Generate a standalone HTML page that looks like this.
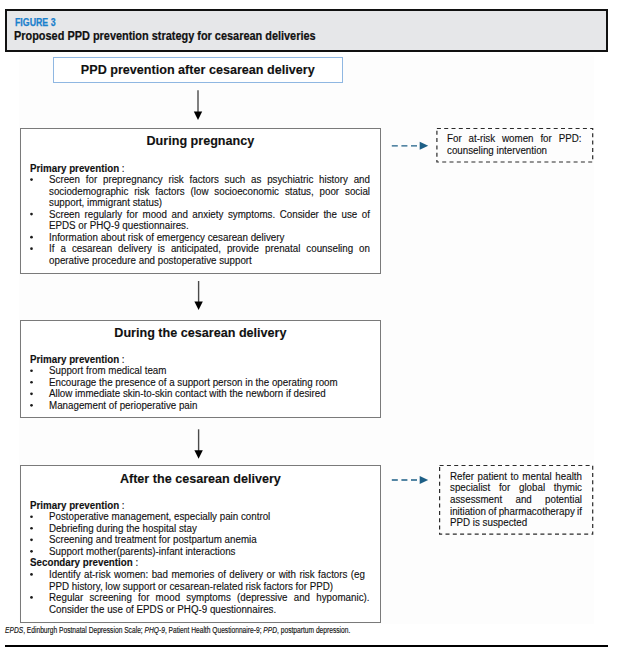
<!DOCTYPE html>
<html><head><meta charset="utf-8"><style>
html,body{margin:0;padding:0;background:#fff;}
body{width:619px;height:654px;position:relative;overflow:hidden;font-family:"Liberation Sans",sans-serif;color:#111;}
.l{position:absolute;white-space:nowrap;line-height:11.6px;transform-origin:0 0;-webkit-text-stroke:0.12px #111;}
.tt{font-weight:bold;text-align:center;}
.box{position:absolute;box-sizing:border-box;border:1px solid #7a7a7a;background:#fff;}
.dbox{position:absolute;box-sizing:border-box;border:1.3px dashed #333;}
.dot{position:absolute;width:2.6px;height:2.6px;border-radius:50%;background:#1a1a1a;}
.ab{position:absolute;overflow:visible;}
#figbg{position:absolute;left:19px;top:56px;width:575px;height:567.5px;background:#fdfdfd;}
#hdr{position:absolute;left:5px;top:9px;width:603px;height:43px;box-sizing:border-box;border:2px solid #111;background:#e6e7e9;}
#fig{position:absolute;left:14.6px;top:16px;font-size:10.6px;font-weight:bold;color:#1a80cc;-webkit-text-stroke:0.25px #1a80cc;transform-origin:0 0;transform:scaleX(0.83);white-space:nowrap;line-height:12px;}
#ttl{position:absolute;left:13.8px;top:28.7px;font-size:12px;font-weight:bold;color:#111;-webkit-text-stroke:0.2px #111;transform-origin:0 0;transform:scaleX(0.91);white-space:nowrap;line-height:14px;}
#bbox{position:absolute;left:52.5px;top:57px;width:290.5px;height:26px;box-sizing:border-box;border:1px solid #8fb7e2;background:#fff;}
#foot{position:absolute;left:5.2px;top:625px;font-size:8.4px;color:#111;-webkit-text-stroke:0.15px #111;transform-origin:0 0;transform:scaleX(0.795);white-space:nowrap;line-height:10px;}
#rule{position:absolute;left:5px;top:644.5px;width:603px;height:2.3px;background:#000;}
</style></head><body>
<div id="figbg"></div>
<div id="hdr"></div>
<div id="fig">FIGURE 3</div>
<div id="ttl">Proposed PPD prevention strategy for cesarean deliveries</div>
<div id="bbox"></div>

<div class="l tt" style="top:65.00px;left:47.75px;width:300px;font-size:12.6px">PPD prevention after cesarean delivery</div>
<svg class="ab" style="left:192px;top:88px" width="12" height="35"><line x1="6.00" y1="2.30" x2="6.00" y2="25.00" stroke="#4a4a4a" stroke-width="1.4"/><polygon points="1.80,23.50 10.20,23.50 6.00,32.00" fill="#000"/></svg>
<div class="box" style="left:20.4px;top:128.3px;width:360.8px;height:145.3px"></div>
<div class="l tt" style="top:136.00px;left:50.400000000000006px;width:300px;font-size:12.6px">During pregnancy</div>
<div class="l" style="top:163.00px;left:30px;font-size:10.0px;transform:scaleX(0.978);"><b>Primary prevention</b> :</div>
<svg class="ab" style="left:28px;top:176px" width="7" height="7"><circle cx="3.50" cy="3.53" r="1.35" fill="#1a1a1a"/></svg>
<div class="l" style="top:174.00px;left:49px;font-size:10.0px;transform:scaleX(0.978);word-spacing:3.120px">Screen for prepregnancy risk factors such as psychiatric history and</div>
<div class="l" style="top:186.00px;left:49px;font-size:10.0px;transform:scaleX(0.978);word-spacing:3.219px">sociodemographic risk factors (low socioeconomic status, poor social</div>
<div class="l" style="top:197.00px;left:49px;font-size:10.0px;transform:scaleX(0.978);">support, immigrant status)</div>
<svg class="ab" style="left:28px;top:211px" width="7" height="7"><circle cx="3.50" cy="3.12" r="1.35" fill="#1a1a1a"/></svg>
<div class="l" style="top:209.00px;left:49px;font-size:10.0px;transform:scaleX(0.978);word-spacing:1.861px">Screen regularly for mood and anxiety symptoms. Consider the use of</div>
<div class="l" style="top:220.00px;left:49px;font-size:10.0px;transform:scaleX(0.978);">EPDS or PHQ-9 questionnaires.</div>
<svg class="ab" style="left:28px;top:234px" width="7" height="7"><circle cx="3.50" cy="3.18" r="1.35" fill="#1a1a1a"/></svg>
<div class="l" style="top:232.00px;left:49px;font-size:10.0px;transform:scaleX(0.978);">Information about risk of emergency cesarean delivery</div>
<svg class="ab" style="left:28px;top:245px" width="7" height="7"><circle cx="3.50" cy="3.71" r="1.35" fill="#1a1a1a"/></svg>
<div class="l" style="top:243.00px;left:49px;font-size:10.0px;transform:scaleX(0.978);word-spacing:3.361px">If a cesarean delivery is anticipated, provide prenatal counseling on</div>
<div class="l" style="top:255.00px;left:49px;font-size:10.0px;transform:scaleX(0.978);">operative procedure and postoperative support</div>
<svg class="ab" style="left:192px;top:279px" width="12" height="34"><line x1="6.60" y1="2.00" x2="6.60" y2="24.10" stroke="#4a4a4a" stroke-width="1.4"/><polygon points="2.40,22.60 10.80,22.60 6.60,31.10" fill="#000"/></svg>
<div class="box" style="left:20.3px;top:320.3px;width:360.9px;height:97.5px"></div>
<div class="l tt" style="top:328.00px;left:50.400000000000006px;width:300px;font-size:12.6px">During the cesarean delivery</div>
<div class="l" style="top:354.00px;left:30px;font-size:10.0px;transform:scaleX(0.978);"><b>Primary prevention</b> :</div>
<svg class="ab" style="left:28px;top:367px" width="7" height="7"><circle cx="3.50" cy="3.73" r="1.35" fill="#1a1a1a"/></svg>
<div class="l" style="top:365.00px;left:49px;font-size:10.0px;transform:scaleX(0.978);">Support from medical team</div>
<svg class="ab" style="left:28px;top:379px" width="7" height="7"><circle cx="3.50" cy="3.26" r="1.35" fill="#1a1a1a"/></svg>
<div class="l" style="top:377.00px;left:49px;font-size:10.0px;transform:scaleX(0.978);">Encourage the presence of a support person in the operating room</div>
<svg class="ab" style="left:28px;top:390px" width="7" height="7"><circle cx="3.50" cy="3.79" r="1.35" fill="#1a1a1a"/></svg>
<div class="l" style="top:388.00px;left:49px;font-size:10.0px;transform:scaleX(0.978);">Allow immediate skin-to-skin contact with the newborn if desired</div>
<svg class="ab" style="left:28px;top:402px" width="7" height="7"><circle cx="3.50" cy="3.32" r="1.35" fill="#1a1a1a"/></svg>
<div class="l" style="top:400.00px;left:49px;font-size:10.0px;transform:scaleX(0.978);">Management of perioperative pain</div>
<svg class="ab" style="left:192px;top:427px" width="12" height="34"><line x1="6.60" y1="2.30" x2="6.60" y2="24.80" stroke="#4a4a4a" stroke-width="1.4"/><polygon points="2.40,23.30 10.80,23.30 6.60,31.80" fill="#000"/></svg>
<div class="box" style="left:20.3px;top:465.0px;width:360.9px;height:158.0px"></div>
<div class="l tt" style="top:474.00px;left:50.400000000000006px;width:300px;font-size:12.6px">After the cesarean delivery</div>
<div class="l" style="top:500.00px;left:30px;font-size:10.0px;transform:scaleX(0.978);"><b>Primary prevention</b> :</div>
<svg class="ab" style="left:28px;top:513px" width="7" height="7"><circle cx="3.50" cy="3.73" r="1.35" fill="#1a1a1a"/></svg>
<div class="l" style="top:511.00px;left:49px;font-size:10.0px;transform:scaleX(0.978);">Postoperative management, especially pain control</div>
<svg class="ab" style="left:28px;top:525px" width="7" height="7"><circle cx="3.50" cy="3.26" r="1.35" fill="#1a1a1a"/></svg>
<div class="l" style="top:523.00px;left:49px;font-size:10.0px;transform:scaleX(0.978);">Debriefing during the hospital stay</div>
<svg class="ab" style="left:28px;top:536px" width="7" height="7"><circle cx="3.50" cy="3.79" r="1.35" fill="#1a1a1a"/></svg>
<div class="l" style="top:534.00px;left:49px;font-size:10.0px;transform:scaleX(0.978);">Screening and treatment for postpartum anemia</div>
<svg class="ab" style="left:28px;top:548px" width="7" height="7"><circle cx="3.50" cy="3.32" r="1.35" fill="#1a1a1a"/></svg>
<div class="l" style="top:546.00px;left:49px;font-size:10.0px;transform:scaleX(0.978);">Support mother(parents)-infant interactions</div>
<div class="l" style="top:557.00px;left:30px;font-size:10.0px;transform:scaleX(0.978);"><b>Secondary prevention</b> :</div>
<svg class="ab" style="left:28px;top:571px" width="7" height="7"><circle cx="3.50" cy="3.38" r="1.35" fill="#1a1a1a"/></svg>
<div class="l" style="top:569.00px;left:49px;font-size:10.0px;transform:scaleX(0.978);word-spacing:0.727px">Identify at-risk women: bad memories of delivery or with risk factors (eg</div>
<div class="l" style="top:581.00px;left:49px;font-size:10.0px;transform:scaleX(0.978);">PPD history, low support or cesarean-related risk factors for PPD)</div>
<svg class="ab" style="left:28px;top:594px" width="7" height="7"><circle cx="3.50" cy="3.44" r="1.35" fill="#1a1a1a"/></svg>
<div class="l" style="top:592.00px;left:49px;font-size:10.0px;transform:scaleX(0.978);word-spacing:3.541px">Regular screening for mood symptoms (depressive and hypomanic).</div>
<div class="l" style="top:604.00px;left:49px;font-size:10.0px;transform:scaleX(0.978);">Consider the use of EPDS or PHQ-9 questionnaires.</div>
<svg class="ab" style="left:390px;top:139px" width="40" height="12"><line x1="1.8" y1="6.80" x2="28" y2="6.80" stroke="#1d5f86" stroke-width="1.3" stroke-dasharray="6 3.6"/><polygon points="29.7,2.80 29.7,10.80 38.2,6.80" fill="#1d5f86"/></svg>
<svg class="ab" style="left:434px;top:126px" width="161" height="38"><rect x="2.90" y="2.50" width="155.80" height="33.50" fill="none" stroke="#2b2b2b" stroke-width="1.2" stroke-dasharray="4 3.3"/></svg>
<div class="l" style="top:133.00px;left:447.3px;font-size:10.0px;transform:scaleX(0.978);word-spacing:4.233px">For at-risk women for PPD:</div>
<div class="l" style="top:145.00px;left:447.3px;font-size:10.0px;transform:scaleX(0.978);">counseling intervention</div>
<svg class="ab" style="left:390px;top:474px" width="40" height="12"><line x1="1.8" y1="6.00" x2="28" y2="6.00" stroke="#1d5f86" stroke-width="1.3" stroke-dasharray="6 3.6"/><polygon points="29.7,2.00 29.7,10.00 38.2,6.00" fill="#1d5f86"/></svg>
<svg class="ab" style="left:437px;top:463px" width="158" height="74"><rect x="2.60" y="2.50" width="153.10" height="68.70" fill="none" stroke="#2b2b2b" stroke-width="1.2" stroke-dasharray="4 3.3"/></svg>
<div class="l" style="top:471.00px;left:450px;font-size:10.0px;transform:scaleX(0.978);word-spacing:0.942px">Refer patient to mental health</div>
<div class="l" style="top:482.00px;left:450px;font-size:10.0px;transform:scaleX(0.978);word-spacing:6.084px">specialist for global thymic</div>
<div class="l" style="top:494.00px;left:450px;font-size:10.0px;transform:scaleX(0.978);word-spacing:10.782px">assessment and potential</div>
<div class="l" style="top:506.00px;left:450px;font-size:10.0px;transform:scaleX(0.978);word-spacing:-0.406px">initiation of pharmacotherapy if</div>
<div class="l" style="top:517.00px;left:450px;font-size:10.0px;transform:scaleX(0.978);">PPD is suspected</div>
<div id="foot"><i>EPDS</i>, Edinburgh Postnatal Depression Scale; <i>PHQ-9</i>, Patient Health Questionnaire-9; <i>PPD</i>, postpartum depression.</div>
<div id="rule"></div>
</body></html>
